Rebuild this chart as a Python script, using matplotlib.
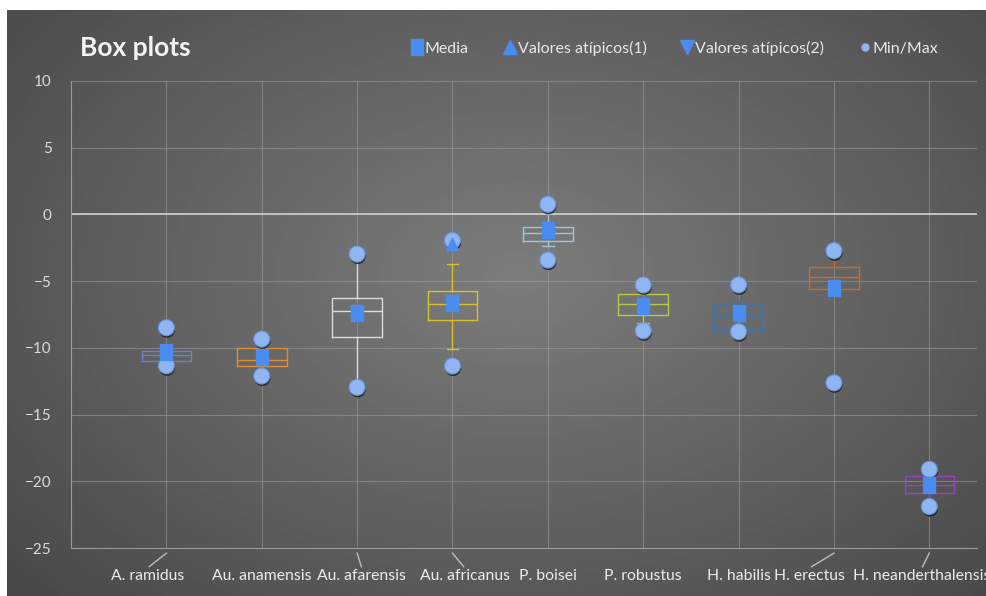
import numpy as np
import matplotlib
matplotlib.use("Agg")
import matplotlib.pyplot as plt
import matplotlib.patheffects as pe
from matplotlib.lines import Line2D
from matplotlib.transforms import blended_transform_factory

# -----------------------------------------------------------------------------
# data
species = ["A. ramidus", "Au. anamensis", "Au. afarensis", "Au. africanus", "P. boisei",
           "P. robustus", "H. habilis", "H. erectus", "H. neanderthalensis"]
q1     = [-10.97, -11.36, -9.21, -7.92, -1.99, -7.54, -8.67, -5.61, -20.91]
med    = [-10.56, -10.91, -7.22, -6.72, -1.42, -6.72, -7.50, -4.67, -20.30]
q3     = [-10.22, -10.04, -6.29, -5.74, -0.92, -5.97, -6.79, -3.92, -19.61]
whislo = [-11.00, -11.90, -12.96, -10.09, -2.37, -8.10, -8.67, -5.80, -21.50]
whishi = [-10.22, -10.04, -2.97, -3.74, 0.30, -5.60, -6.40, -3.00, -19.30]
means  = [-10.29, -10.71, -7.41, -6.62, -1.17, -6.90, -7.41, -5.54, -20.29]
mins   = [-11.34, -12.11, -12.96, -11.36, -3.42, -8.72, -8.79, -12.62, -21.89]
maxs   = [-8.49, -9.34, -2.97, -1.95, 0.76, -5.29, -5.28, -2.72, -19.11]
out_hi = [[], [], [], [-2.2], [], [], [], [], []]

# box colours (style)
box_colors = ["#6f82c4", "#e08c30", "#dcdcdc", "#d9c228", "#a3c6d6",
              "#b4cc44", "#52708f", "#d4691e", "#9c42c8"]
box_lw = [1.0, 1.0, 1.0, 1.0, 1.0, 1.0, 3.5, 1.0, 1.0]
# label offsets / leader lines (layout)
label_dx = [-0.20, 0.0, 0.05, 0.13, 0.0, 0.0, 0.0, -0.26, -0.08]

# -----------------------------------------------------------------------------
W, H = 987, 596
fig = plt.figure(figsize=(W / 100, H / 100), dpi=100)
fig.patch.set_facecolor("white")

# dark radial-gradient background
bg = fig.add_axes([7 / W, 0, (W - 7) / W, (H - 10) / H])
yy, xx = np.mgrid[0:1:300j, 0:1:500j]
r = np.sqrt(((xx - 0.52) / 0.75) ** 2 + ((yy - 0.45) / 0.85) ** 2)
grad = np.clip(0.49 - 0.22 * r, 0.22, 0.50)
bg.imshow(grad, cmap="gray", vmin=0, vmax=1, aspect="auto", extent=[0, 1, 0, 1],
          interpolation="bilinear")
bg.set_axis_off()

font = "Lato"
ax = fig.add_axes([71 / W, (H - 548) / H, (977 - 71) / W, (548 - 81) / H])
ax.set_facecolor("none")

pos = np.arange(1, len(species) + 1)
stats = []
for i in range(len(species)):
    stats.append(dict(med=med[i], q1=q1[i], q3=q3[i], whislo=whislo[i],
                      whishi=whishi[i], mean=means[i], fliers=[]))
bp = ax.bxp(stats, positions=pos, widths=0.52, showfliers=False, showmeans=False,
            patch_artist=False, manage_ticks=False)
for i, c in enumerate(box_colors):
    bp["boxes"][i].set(color=c, linewidth=box_lw[i], zorder=3)
    bp["medians"][i].set(color=c, linewidth=box_lw[i], zorder=3)
    for k in (2 * i, 2 * i + 1):
        bp["whiskers"][k].set(color=c, linewidth=1.0, zorder=3)
        bp["caps"][k].set(color=c, linewidth=1.0, zorder=3)
        bp["caps"][k].set_xdata(np.array([-0.06, 0.06]) + pos[i])
    if i == 6:
        bp["boxes"][i].set_alpha(0.8)
        bp["medians"][i].set_alpha(0.8)

shadow = [pe.SimplePatchShadow(offset=(0.5, -1.5), shadow_rgbFace="#1a1a1a", alpha=0.8),
          pe.Normal()]
rect = [(-0.37, -0.5), (0.37, -0.5), (0.37, 0.5), (-0.37, 0.5), (-0.37, -0.5)]
ax.plot(pos, mins, "o", ls="none", ms=11.5, mfc="#8fb5f3", mec="#6d93d6", mew=0.8,
        zorder=5, path_effects=shadow)
ax.plot(pos, maxs, "o", ls="none", ms=11.5, mfc="#8fb5f3", mec="#6d93d6", mew=0.8,
        zorder=5, path_effects=shadow)
ax.plot(pos, means, marker=rect, ls="none", ms=11, mfc="#4a8cf0", mec="#4a8cf0",
        zorder=6)

# outliers
for i, vals in enumerate(out_hi):
    if vals:
        ax.plot([pos[i]] * len(vals), vals, marker="^", ls="none", ms=9,
                color="#4a8cf0", zorder=7)

# axes, grid
ax.set_xlim(0, 9.5)
ax.set_ylim(-25, 10)
ax.set_yticks(np.arange(-25, 11, 5))
ax.set_xticks(pos)
ax.set_xticklabels([])
ax.tick_params(axis="both", length=0, colors="#dcdcdc", labelsize=11, pad=14)
for lab in ax.get_yticklabels():
    lab.set_fontfamily(font)
ax.grid(True, color="#9a9a9a", linewidth=0.8, alpha=0.6)
ax.set_axisbelow(True)
for s in ("top", "right"):
    ax.spines[s].set_visible(False)
ax.spines["left"].set_color("#9a9a9a")
ax.spines["bottom"].set_color("#9a9a9a")
ax.axhline(0, color="#d0d0d0", linewidth=1.2, zorder=1)

# category labels with leader lines
tr = blended_transform_factory(ax.transData, ax.transAxes)
for i, name in enumerate(species):
    x = pos[i] + label_dx[i]
    if label_dx[i] != 0:
        ax.plot([pos[i], pos[i] + label_dx[i] * 0.9], [-0.011, -0.040], transform=tr,
                color="#bdbdbd", lw=1.0, clip_on=False)
    ax.text(x, -0.046, name, transform=tr, ha="center", va="top", fontsize=11.3,
            color="#ececec", fontfamily=font, clip_on=False)

# title and legend
fig.text(80 / W, 1 - 48 / H, "Box plots", fontsize=19, fontweight="bold",
         color="#f4f4f4", fontfamily=font, va="center", ha="left")
handles = [
    Line2D([], [], marker=rect, ls="none", ms=12, color="#4a8cf0"),
    Line2D([], [], marker="^", ls="none", ms=10, color="#4a8cf0"),
    Line2D([], [], marker="v", ls="none", ms=10, color="#4a8cf0"),
    Line2D([], [], marker="o", ls="none", ms=5, color="#8fb5f3"),
]
leg = fig.legend(handles, ["Media", "Valores atípicos(1)", "Valores atípicos(2)", "Min/Max"],
                 loc="center", bbox_to_anchor=(675 / W, 1 - 48 / H), ncol=4,
                 frameon=False, handlelength=0.7, handletextpad=0.15, columnspacing=2.2,
                 prop={"family": font, "size": 11.5})
for t in leg.get_texts():
    t.set_color("#e8e8e8")

fig.savefig("out.png", dpi=100, facecolor=fig.get_facecolor())
